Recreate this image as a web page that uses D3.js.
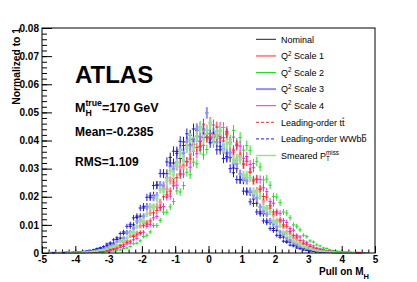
<!DOCTYPE html>
<html><head><meta charset="utf-8">
<script src="https://cdn.jsdelivr.net/npm/d3@7"></script>
<style>
body{margin:0;background:#fff}
svg{display:block}
text{font-family:"Liberation Sans",Arial,Helvetica,sans-serif;white-space:pre}
</style>
</head><body>
<svg id="c" width="417" height="282"></svg>
<script>
// ---------------- DATA ----------------
// Histogram binning of the pull axis
const BIN_LOW = -5, BIN_WIDTH = 0.1;
// bin contents are stored in units of 1e-4 (normalised to 1)
const VALUE_UNIT = 1e-4;
const EFFECTIVE_EVENTS = 12000; // for statistical error bars

const nominal = [0,0,0,1,0,1,1,2,1,2,
2,4,4,7,6,10,11,17,17,26,
32,35,48,53,70,74,95,100,126,131,
160,166,198,205,241,241,282,282,340,320,
361,336,395,383,419,405,436,398,441,413,
426,396,420,367,374,338,339,285,300,261,
259,220,216,192,177,146,140,114,108,87,
81,63,57,42,39,28,25,18,16,11,
9,6,7,4,4,3,2,2,1,1,
1,0,1,0,0,1,0,0,0,0];

const q2Scale1 = [0,0,1,0,0,0,1,0,1,1,
1,2,2,3,4,5,6,8,9,13,
14,20,25,28,38,44,60,63,72,96,
107,109,142,164,166,181,229,227,258,250,
309,305,311,384,352,386,416,380,426,412,
464,408,421,435,372,423,394,358,328,348,
315,268,288,256,221,229,184,159,159,136,
114,113,93,74,68,54,48,34,32,23,
20,15,12,8,7,6,4,4,3,2,
2,2,1,1,1,1,0,0,0,0];

const q2Scale2 = [0,0,0,0,0,1,0,0,1,1,
0,1,1,1,2,2,2,3,3,5,
6,7,10,11,16,18,23,33,35,43,
59,63,75,98,98,116,145,145,164,183,
221,217,240,287,278,323,317,367,349,368,
414,392,433,408,446,421,403,436,391,411,
366,382,365,318,325,306,260,263,241,201,
199,179,146,142,125,100,95,82,63,58,
43,39,29,25,18,16,11,9,7,6,
4,4,3,2,2,1,1,1,0,0];

const q2Scale3 = [0,0,0,1,0,1,1,1,1,2,
2,3,4,5,6,7,10,11,16,18,
25,29,40,43,53,71,75,88,112,117,
131,162,165,197,204,241,240,267,308,300,
323,367,355,396,382,396,442,413,437,498,
410,427,394,409,370,354,357,318,317,281,
266,258,220,205,195,164,148,138,115,102,
93,75,67,52,46,35,31,23,20,14,
12,9,7,6,5,4,3,2,2,1,
1,1,1,0,1,0,0,0,0,0];

const q2Scale4 = [0,0,0,1,0,0,1,0,1,1,
1,1,2,2,2,3,4,4,6,7,
9,12,15,20,23,32,35,47,52,69,
74,95,101,125,130,160,165,199,202,239,
241,283,281,324,305,362,353,396,383,422,
403,455,415,447,410,432,393,412,385,380,
337,343,315,303,262,261,232,218,183,177,
147,141,115,109,87,81,63,57,43,38,
29,25,18,15,12,9,7,6,5,4,
3,2,2,1,1,1,1,0,0,0];

const loTTbar = [0,0,0,0,1,0,0,1,1,1,
1,2,2,3,3,4,6,5,8,8,
13,15,18,26,29,38,42,59,64,73,
97,103,114,143,151,162,200,207,220,265,
268,278,328,325,334,386,375,378,458,411,
408,421,448,416,398,427,388,366,382,342,
316,326,287,260,263,226,201,199,168,146,
142,118,100,95,77,63,57,44,35,31,
23,18,15,11,9,8,6,5,4,3,
2,2,1,1,1,1,0,0,0,0];

const loWWbbbar = [0,0,1,1,1,1,2,3,2,3,
4,5,6,7,9,12,16,19,23,32,
36,47,54,69,75,95,102,125,131,160,
166,198,203,240,242,283,283,324,320,362,
354,397,382,424,403,441,414,448,410,436,
392,412,367,379,336,343,300,302,261,260,
220,217,182,176,146,140,114,108,87,80,
63,56,42,38,28,25,18,15,11,9,
7,6,4,4,3,2,2,1,1,1,
1,0,0,1,0,0,0,0,0,0];

const smearedMET = [0,0,1,0,1,1,0,1,1,1,
2,2,3,4,5,6,7,10,11,15,
20,23,29,40,43,54,72,74,93,113,
114,138,165,163,193,225,219,255,291,278,
317,354,332,373,408,377,415,446,404,437,
458,404,425,435,377,389,390,332,336,332,
278,277,267,219,214,202,163,156,145,114,
107,97,74,67,58,42,38,32,23,20,
16,12,9,7,6,5,4,3,2,2,
1,1,1,1,0,0,0,0,0,0];

const xTicks = [-5,-4,-3,-2,-1,0,1,2,3,4,5];
const xTickLabels = ["-5","-4","-3","-2","-1","0","1","2","3","4","5"];
const yTicks = [0,0.01,0.02,0.03,0.04,0.05,0.06,0.07,0.08];
const yTickLabels = ["0","0.01","0.02","0.03","0.04","0.05","0.06","0.07","0.08"];

// ---------------- STYLE ----------------
const seriesList = [
  {data:nominal,   color:"#222222", w:1, lw:1,   dash:null},
  {data:q2Scale1,  color:"#ff8f8f", w:2, lw:2,   dash:null},
  {data:q2Scale2,  color:"#1fe01f", w:1, lw:1,   dash:null},
  {data:q2Scale3,  color:"#8f8fff", w:2, lw:2,   dash:null},
  {data:q2Scale4,  color:"#e22ee2", w:1, lw:1,   dash:null},
  {data:loTTbar,   color:"#ff2a2a", w:1, lw:1,   dash:"3,2"},
  {data:loWWbbbar, color:"#1a1aff", w:1, lw:1,   dash:"3,2"},
  {data:smearedMET,color:"#94e494", w:2, lw:1.5, dash:null}
];

const FONT = '"Liberation Sans",Arial,Helvetica,sans-serif';
const L = 42, R = 375, T = 28, B = 253;
const svg = d3.select("#c");
const x = d3.scaleLinear().domain([-5,5]).range([L,R]);
const y = d3.scaleLinear().domain([0,0.08]).range([B,T]);

// ---------------- AXES ----------------
const xMinor = d3.range(-5, 5.0001, 0.2).map(v => +v.toFixed(2));
const yMinor = d3.range(0, 0.08001, 0.002).map(v => +v.toFixed(4));

function styleAxis(g){
  g.select(".domain").remove();
  g.selectAll(".tick line").attr("stroke","#000").attr("stroke-width",1);
  g.selectAll("text").attr("font-family",FONT).attr("font-size",10).attr("font-weight","bold").attr("fill","#000");
}
svg.append("g").attr("transform",`translate(0,${B})`)
  .call(d3.axisBottom(x).tickValues(xMinor).tickSize(-3.5).tickFormat(""))
  .call(styleAxis);
svg.append("g").attr("transform",`translate(0,${B})`)
  .call(d3.axisBottom(x).tickValues(xTicks).tickSize(-7).tickPadding(3)
        .tickFormat((d,i)=>xTickLabels[i]))
  .call(styleAxis);
svg.append("g").attr("transform",`translate(${L},0)`)
  .call(d3.axisLeft(y).tickValues(yMinor).tickSize(-5).tickFormat(""))
  .call(styleAxis);
svg.append("g").attr("transform",`translate(${L},0)`)
  .call(d3.axisLeft(y).tickValues(yTicks).tickSize(-10).tickPadding(3)
        .tickFormat((d,i)=>yTickLabels[i]))
  .call(styleAxis);

// ---------------- DATA POINTS ----------------
const plot = svg.append("g");
seriesList.forEach(s => {
  const pts = s.data.map((v,i) => {
    const val = v*VALUE_UNIT;
    return {lo: BIN_LOW + i*BIN_WIDTH, hi: BIN_LOW + (i+1)*BIN_WIDTH, c: BIN_LOW + (i+0.5)*BIN_WIDTH,
            v: val, e: Math.sqrt(val/EFFECTIVE_EVENTS)};
  }).filter(p => p.v > 0);
  const g = plot.append("g").attr("stroke", s.color).attr("stroke-width", s.w).attr("fill","none");
  g.selectAll("line.h").data(pts).join("line").attr("class","h")
    .attr("x1", d=>x(d.lo)).attr("x2", d=>x(d.hi))
    .attr("y1", d=>y(d.v)).attr("y2", d=>y(d.v));
  g.selectAll("line.v").data(pts).join("line").attr("class","v")
    .attr("x1", d=>x(d.c)).attr("x2", d=>x(d.c))
    .attr("y1", d=>y(Math.max(0,d.v-d.e))).attr("y2", d=>y(d.v+d.e));
});

// frame
svg.append("rect").attr("x",L).attr("y",T).attr("width",R-L).attr("height",B-T)
  .attr("fill","none").attr("stroke","#000").attr("stroke-width",1);

// ---------------- RICH TEXT HELPER ----------------
function t(g, xx, yy, str, size, weight){
  return g.append("text").attr("x",xx).attr("y",yy).attr("font-family",FONT)
    .attr("font-size",size).attr("font-weight",weight||"normal").attr("fill","#000")
    .style("white-space","pre").text(str);
}
function rich(g, x0, y0, parts, size, weight){
  let cx = x0;
  const small = size*0.7;
  parts.forEach(p => {
    if (p.subsup){
      const a = t(g, cx, y0+size*0.3, p.sub, small, weight);
      const b = t(g, cx, y0-size*0.45, p.sup, small, weight);
      cx += Math.max(a.node().getComputedTextLength(), b.node().getComputedTextLength());
    } else if (p.sup){
      const b = t(g, cx, y0-size*0.4, p.sup, small, weight);
      cx += b.node().getComputedTextLength();
    } else if (p.bar){
      const a = t(g, cx, y0, p.bar, size, weight);
      const w = a.node().getComputedTextLength();
      g.append("line").attr("x1",cx+0.3).attr("x2",cx+w-0.3)
        .attr("y1",y0-size*0.82).attr("y2",y0-size*0.82).attr("stroke","#000").attr("stroke-width",0.8);
      cx += w;
    } else {
      const a = t(g, cx, y0, p.t, size, weight);
      cx += a.node().getComputedTextLength();
    }
  });
  return cx;
}

// ---------------- TITLES ----------------
(function(){
  const g = svg.append("g");
  const tmp = svg.append("g").attr("opacity",0);
  const w = rich(tmp, 0, 0, [{t:"Pull on M"}], 10, "bold");
  tmp.remove();
  const x0 = 369 - w - 5.5;
  t(g, x0, 275, "Pull on M", 10, "bold");
  t(g, x0+w, 279, "H", 7.5, "bold");
})();
svg.append("text").attr("transform","translate(20,28) rotate(-90)")
  .attr("text-anchor","end").attr("font-family",FONT).attr("font-size",10.3)
  .attr("font-weight","bold").text("Normalized to 1");

// ATLAS label and stats
t(svg, 75, 83, "ATLAS", 24, "bold");
rich(svg, 75, 112, [{t:"M"},{subsup:true, sub:"H", sup:"true"},{t:"=170 GeV"}], 12.5, "bold");
t(svg, 75, 136, "Mean=-0.2385", 12, "bold");
t(svg, 75, 166, "RMS=1.109", 12, "bold");

// ---------------- LEGEND ----------------
const legendLabels = [
  [{t:"Nominal"}],
  [{t:"Q"},{sup:"2"},{t:" Scale 1"}],
  [{t:"Q"},{sup:"2"},{t:" Scale 2"}],
  [{t:"Q"},{sup:"2"},{t:" Scale 3"}],
  [{t:"Q"},{sup:"2"},{t:" Scale 4"}],
  [{t:"Leading-order t"},{bar:"t"}],
  [{t:"Leading-order WWb"},{bar:"b"}],
  [{t:"Smeared P"},{subsup:true, sub:"T", sup:"miss"}]
];
const lg = svg.append("g");
seriesList.forEach((s,i) => {
  const cy = 39.3 + i*16.6;
  lg.append("line").attr("x1",256).attr("x2",276).attr("y1",cy).attr("y2",cy)
    .attr("stroke",s.color).attr("stroke-width",s.lw).attr("stroke-dasharray",s.dash);
  rich(lg, 281, cy+3.2, legendLabels[i], 9, "normal");
});
</script>
</body></html>
